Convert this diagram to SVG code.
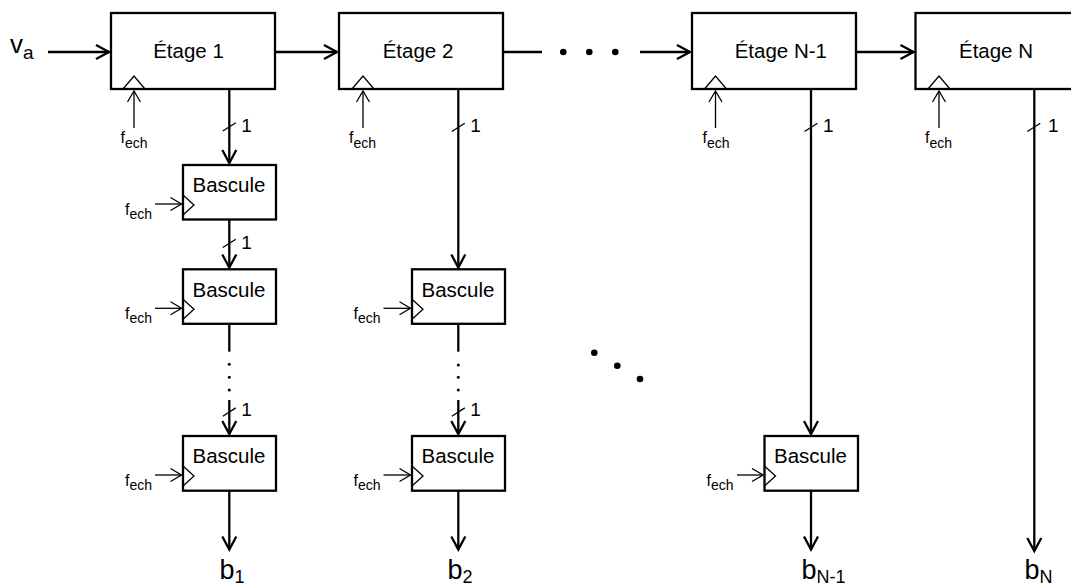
<svg xmlns="http://www.w3.org/2000/svg" width="1071" height="587" viewBox="0 0 1071 587">
<style>
.box{fill:#fff;stroke:#000;stroke-width:2.3}
.w{stroke:#000;stroke-width:2.3;fill:none}
.t{stroke:#000;stroke-width:1.3;fill:none}
.aw{marker-end:url(#aw)}
.at{marker-end:url(#at)}
text{font-family:"Liberation Sans",Arial,sans-serif;fill:#000}
.lbl{font-size:20.5px}
.mid{text-anchor:middle}
.f{font-size:16px}
.fs{font-size:14px}
.one{font-size:19px}
.big{font-size:27px}
.sub{font-size:18px}
.dot{fill:#000}
</style>
<defs>
<marker id="aw" markerUnits="userSpaceOnUse" viewBox="-16 -10 20 20" refX="0" refY="0" markerWidth="20" markerHeight="20" orient="auto" overflow="visible">
<path d="M-13,-7 L0,0 L-13,7" fill="none" stroke="#000" stroke-width="2.3"/>
</marker>
<marker id="at" markerUnits="userSpaceOnUse" viewBox="-14 -9 17 18" refX="0" refY="0" markerWidth="17" markerHeight="18" orient="auto" overflow="visible">
<path d="M-11,-6.5 L0,0 L-11,6.5" fill="none" stroke="#000" stroke-width="1.3"/>
</marker>
</defs>

<g id="connectors">
<line class="w aw" x1="48" y1="52" x2="109" y2="52"/>
<line class="w aw" x1="275" y1="52" x2="337" y2="52"/>
<line class="w" x1="503" y1="52" x2="542" y2="52"/>
<circle class="dot" cx="563.3" cy="52" r="3.3"/>
<circle class="dot" cx="589.3" cy="52" r="3.3"/>
<circle class="dot" cx="615.3" cy="52" r="3.3"/>
<line class="w aw" x1="640" y1="52" x2="690" y2="52"/>
<line class="w aw" x1="856" y1="52" x2="913.5" y2="52"/>

<line class="w aw" x1="229.3" y1="89" x2="229.3" y2="163"/>
<line class="t" x1="222.8" y1="131" x2="235.8" y2="122.7"/>
<line class="w aw" x1="229.3" y1="219.5" x2="229.3" y2="267.5"/>
<line class="t" x1="222.8" y1="247.5" x2="235.8" y2="239.2"/>
<line class="w" x1="229.3" y1="323.5" x2="229.3" y2="351.7"/>
<circle class="dot" cx="229.3" cy="364.3" r="1.5"/>
<circle class="dot" cx="229.3" cy="377.3" r="1.5"/>
<circle class="dot" cx="229.3" cy="390" r="1.5"/>
<line class="w aw" x1="229.3" y1="400" x2="229.3" y2="434"/>
<line class="t" x1="222.8" y1="416.2" x2="235.8" y2="407.9"/>
<line class="w aw" x1="229.3" y1="490.7" x2="229.3" y2="549.5"/>

<line class="w aw" x1="458.3" y1="89" x2="458.3" y2="267.5"/>
<line class="t" x1="451.8" y1="131.5" x2="464.8" y2="123.2"/>
<line class="w" x1="458.3" y1="324" x2="458.3" y2="351.7"/>
<circle class="dot" cx="458.3" cy="365" r="1.5"/>
<circle class="dot" cx="458.3" cy="377.3" r="1.5"/>
<circle class="dot" cx="458.3" cy="390" r="1.5"/>
<line class="w aw" x1="458.3" y1="400" x2="458.3" y2="434"/>
<line class="t" x1="451.8" y1="416.2" x2="464.8" y2="407.9"/>
<line class="w aw" x1="458.3" y1="490.7" x2="458.3" y2="549.5"/>

<line class="w aw" x1="811" y1="89" x2="811" y2="434"/>
<line class="t" x1="804.5" y1="131.5" x2="817.5" y2="123.2"/>
<line class="w aw" x1="811" y1="490.7" x2="811" y2="549.5"/>

<line class="w aw" x1="1034.3" y1="89" x2="1034.3" y2="551"/>
<line class="t" x1="1027.3" y1="131.5" x2="1040.3" y2="123.2"/>

<circle class="dot" cx="594.3" cy="352.7" r="3.3"/>
<circle class="dot" cx="617.3" cy="365.7" r="3.3"/>
<circle class="dot" cx="640" cy="379" r="3.3"/>

<line class="t at" x1="134" y1="128" x2="134" y2="91"/>
<line class="t at" x1="363" y1="128" x2="363" y2="91"/>
<line class="t at" x1="715.5" y1="128" x2="715.5" y2="91"/>
<line class="t at" x1="939" y1="128" x2="939" y2="91"/>

<line class="t at" x1="155" y1="204" x2="181.5" y2="204"/>
<line class="t at" x1="155" y1="308.3" x2="181.5" y2="308.3"/>
<line class="t at" x1="155" y1="475" x2="181.5" y2="475"/>
<line class="t at" x1="383.5" y1="308.3" x2="410.5" y2="308.3"/>
<line class="t at" x1="383.5" y1="475" x2="410.5" y2="475"/>
<line class="t at" x1="737" y1="475" x2="763" y2="475"/>
</g>

<g id="input-va"><text x="10" y="53.3" class="big" style="font-size:26px">v<tspan class="sub" style="font-size:19px" dy="6">a</tspan></text></g>

<g id="etage1">
<rect class="box" x="111" y="13" width="164" height="76"/>
<polyline class="t" points="123,89 134,76 145,89"/>
<text class="lbl mid" x="188.5" y="58.3">Étage 1</text>
<text x="120.5" y="142.7" class="f">f<tspan class="fs" dy="5.3">ech</tspan></text>
</g>
<g id="etage2">
<rect class="box" x="339" y="13" width="164" height="76"/>
<polyline class="t" points="352,89 363,76 374,89"/>
<text class="lbl mid" x="418" y="58.3">Étage 2</text>
<text x="349" y="142.7" class="f">f<tspan class="fs" dy="5.3">ech</tspan></text>
</g>
<g id="etageN-1">
<rect class="box" x="692" y="13" width="164" height="76"/>
<polyline class="t" points="704.5,89 715.5,76 726.5,89"/>
<text class="lbl mid" x="780.8" y="58.3">Étage N-1</text>
<text x="702.5" y="142.7" class="f">f<tspan class="fs" dy="5.3">ech</tspan></text>
</g>
<g id="etageN">
<rect class="box" x="915.5" y="13" width="164" height="76"/>
<polyline class="t" points="928,89 939,76 950,89"/>
<text class="lbl mid" x="996" y="58.3">Étage N</text>
<text x="925" y="142.7" class="f">f<tspan class="fs" dy="5.3">ech</tspan></text>
</g>

<g id="bascule-1-1">
<rect class="box" x="183" y="165" width="93" height="54.5"/>
<polyline class="t" points="183,195 194,205 183,215"/>
<text class="lbl mid" x="229" y="192">Bascule</text>
<text x="125" y="214.5" class="f">f<tspan class="fs" dy="4.5">ech</tspan></text>
</g>
<g id="bascule-1-2">
<rect class="box" x="183" y="269.3" width="93" height="54.5"/>
<polyline class="t" points="183,299.3 194,309.3 183,319.3"/>
<text class="lbl mid" x="229" y="296.5">Bascule</text>
<text x="125" y="318.8" class="f">f<tspan class="fs" dy="4.5">ech</tspan></text>
</g>
<g id="bascule-1-3">
<rect class="box" x="183" y="436" width="93" height="54.7"/>
<polyline class="t" points="183,466 194,476 183,486"/>
<text class="lbl mid" x="229" y="463">Bascule</text>
<text x="125" y="485.5" class="f">f<tspan class="fs" dy="4.5">ech</tspan></text>
</g>
<g id="bascule-2-1">
<rect class="box" x="412" y="269.3" width="93" height="54.5"/>
<polyline class="t" points="412,299.3 423,309.3 412,319.3"/>
<text class="lbl mid" x="458" y="296.5">Bascule</text>
<text x="353.5" y="318.8" class="f">f<tspan class="fs" dy="4.5">ech</tspan></text>
</g>
<g id="bascule-2-2">
<rect class="box" x="412" y="436" width="93" height="54.7"/>
<polyline class="t" points="412,466 423,476 412,486"/>
<text class="lbl mid" x="458" y="463">Bascule</text>
<text x="353.5" y="485.5" class="f">f<tspan class="fs" dy="4.5">ech</tspan></text>
</g>
<g id="bascule-N-1">
<rect class="box" x="764.5" y="436" width="93.5" height="54.7"/>
<polyline class="t" points="764.5,466 775.5,476 764.5,486"/>
<text class="lbl mid" x="810.5" y="463">Bascule</text>
<text x="706.5" y="485.5" class="f">f<tspan class="fs" dy="4.5">ech</tspan></text>
</g>

<g id="width-labels">
<text class="one" x="241.3" y="131.7">1</text>
<text class="one" x="241.3" y="249">1</text>
<text class="one" x="241.3" y="416">1</text>
<text class="one" x="470.3" y="131.7">1</text>
<text class="one" x="470.3" y="416">1</text>
<text class="one" x="823" y="131.7">1</text>
<text class="one" x="1048" y="131.7">1</text>
</g>

<g id="outputs">
<text class="big" x="219.5" y="578.5">b<tspan class="sub" dy="4.5">1</tspan></text>
<text class="big" x="447.5" y="578.5">b<tspan class="sub" dy="4.5">2</tspan></text>
<text class="big" x="801.5" y="578.5">b<tspan class="sub" dy="4.5">N-1</tspan></text>
<text class="big" x="1024.5" y="578.5">b<tspan class="sub" dy="4.5">N</tspan></text>
</g>
</svg>
